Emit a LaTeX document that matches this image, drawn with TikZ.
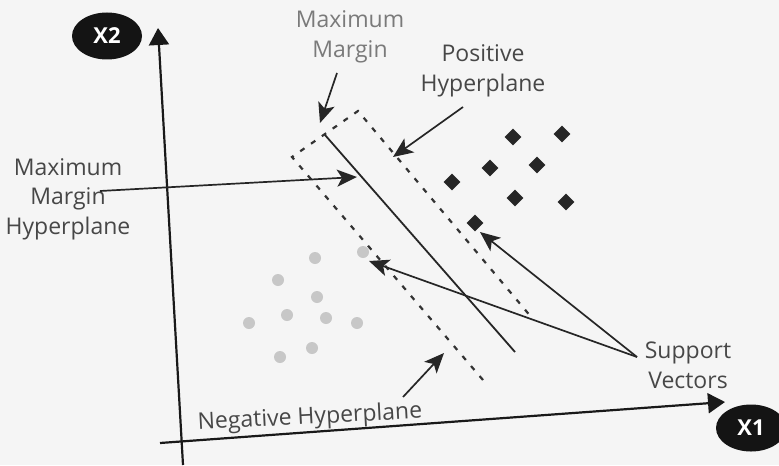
\documentclass[tikz,border=0pt]{standalone}
\usepackage{fontspec}
\setmainfont{Open Sans}
\usetikzlibrary{arrows.meta,shapes.geometric}
\begin{document}
\begin{tikzpicture}[x=0.5pt,y=-0.5pt,
  lbl/.style={text=black!72, font=\fontsize{11.5}{14.8}\selectfont, align=center, inner sep=0pt},
  lbllight/.style={lbl, text=black!52},
  axisline/.style={line width=1.1pt, draw=black!90, -{Triangle[length=8.5pt,width=10pt]}},
  ann/.style={line width=0.85pt, draw=black!85, -{Stealth[length=10pt,width=8.5pt,inset=2.5pt]}},
  marg/.style={line width=1.1pt, draw=black!80, dash pattern=on 2.6pt off 4pt},
  hyp/.style={line width=0.9pt, draw=black!85},
  dia/.style={diamond, fill=black!85, minimum size=8.5pt, inner sep=0pt},
  dot/.style={circle, fill=black!22, minimum size=6pt, inner sep=0pt},
  axlab/.style={ellipse, fill=black!92, text=white, font=\bfseries\fontsize{11}{13}\selectfont, minimum width=35pt, minimum height=23.5pt, inner sep=0pt}
]
\fill[black!4] (0,0) rectangle (779,465);
\useasboundingbox (0,0) rectangle (779,465);

% axes
\coordinate (yb) at (183,465);
\coordinate (yt) at (158,28);
\coordinate (xb) at (160,443);
\coordinate (xt) at (725,402);
\draw[axisline] (yb) -- (yt);
\draw[axisline] (xb) -- (xt);
\node[axlab] (x2) at (107,36) {X2};
\node[axlab] (x1) at (751,428) {X1};

% margin (dashed) and hyperplane (solid)
\coordinate (mbl) at (483,380);
\coordinate (mtl) at (292,157);
\coordinate (mtr) at (358,111);
\coordinate (mbr) at (532,318);
\draw[marg] (mbl) -- (mtl) -- (mtr) -- (mbr);
\coordinate (ht) at (325,135);
\coordinate (hb) at (515,352);
\draw[hyp] (ht) -- (hb);

% positive class (diamonds)
\node[dia] (d1) at (513,137) {};
\node[dia] (d2) at (562,134) {};
\node[dia] (d3) at (490,168) {};
\node[dia] (d4) at (537,165) {};
\node[dia] (d5) at (452,182) {};
\node[dia] (d6) at (515,198) {};
\node[dia] (d7) at (566,202) {};
\node[dia] (dsv) at (475,223) {};

% negative class (dots)
\node[dot] (c1) at (315,258) {};
\node[dot] (c2) at (278,280) {};
\node[dot] (c3) at (317,297) {};
\node[dot] (c4) at (287,315) {};
\node[dot] (c5) at (249,323) {};
\node[dot] (c6) at (326,318) {};
\node[dot] (c7) at (357,323) {};
\node[dot] (c8) at (312,348) {};
\node[dot] (c9) at (280,357) {};
\node[dot] (csv) at (363,252) {};

% labels
\node[lbllight] (lmm) at (350,37) {Maximum\\Margin};
\node[lbl] (lpos) at (483,71) {Positive\\Hyperplane};
\node[lbl] (lmmh) at (68,199) {Maximum\\Margin\\Hyperplane};
\node[lbl] (lsv) at (688,365) {Support\\Vectors};
\node[lbl, rotate=3] (lneg) at (310,418) {Negative Hyperplane};

% annotation arrows
\coordinate (amm0) at (337,73);   \coordinate (amm1) at (320,123);
\coordinate (apos0) at (463,107); \coordinate (apos1) at (393,157);
\coordinate (ammh0) at (100,191); \coordinate (ammh1) at (357,177);
\coordinate (aneg0) at (403,397); \coordinate (aneg1) at (444,353);
\coordinate (asv0) at (637,357);
\coordinate (asv1) at (369,261);
\coordinate (asv2) at (480,232);
\draw[ann] (amm0) -- (amm1);
\draw[ann] (apos0) -- (apos1);
\draw[ann] (ammh0) -- (ammh1);
\draw[ann] (aneg0) -- (aneg1);
\draw[ann] (asv0) -- (asv1);
\draw[ann] (asv0) -- (asv2);
\end{tikzpicture}
\end{document}
